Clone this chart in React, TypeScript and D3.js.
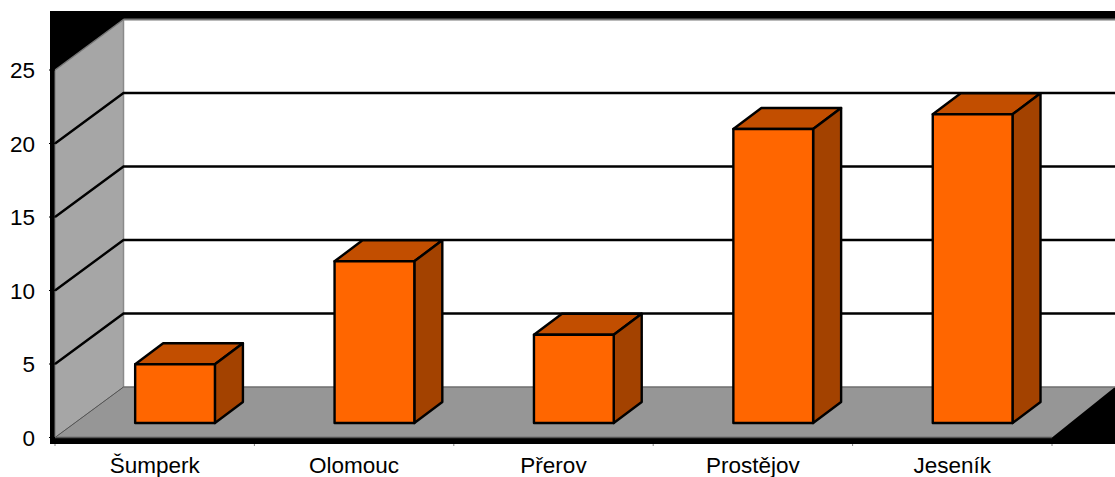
import React from "react";
import * as d3 from "d3";

const categories = ["Šumperk", "Olomouc", "Přerov", "Prostějov", "Jeseník"];
const values = [4, 11, 6, 20, 21];
const yTicks = [0, 5, 10, 15, 20, 25];

const W = 1115, H = 477;
const FRONT_X0 = 55, FRONT_X1 = 1052, ZERO = 437.5, TOP = 70;
const DX = 68.5, DY = 50.5;
const BAR_DX = 28, BAR_DY = 21, BAR_LIFT = 14.5;

const y = d3.scaleLinear().domain([0, 25]).range([ZERO, TOP]);
const x = d3.scaleBand<string>().domain(categories).range([FRONT_X0, FRONT_X1]).padding(0);
const poly = (pts: number[][]) => pts.map((p) => p.join(",")).join(" ");

export default function App() {
  const band = x.bandwidth();
  const barW = band * 0.4;
  const base = ZERO - BAR_LIFT;
  return (
    <svg width={W} height={H} style={{ position: "absolute", left: 0, top: 0, display: "block" }} fontFamily="'Liberation Sans', Arial, sans-serif">
      <rect x={0} y={0} width={W} height={H} fill="#fff" />
      <rect x={50} y={11} width={W - 50} height={433} fill="#000" />
      <rect x={FRONT_X0 + DX} y={TOP - DY} width={W - FRONT_X0 - DX} height={ZERO - TOP} fill="#fff" />
      <polygon points={poly([[FRONT_X0, y(25)], [FRONT_X0 + DX, y(25) - DY], [FRONT_X0 + DX, ZERO - DY], [FRONT_X0, ZERO]])} fill="#a6a6a6" />
      <polygon points={poly([[FRONT_X0, ZERO], [FRONT_X0 + DX, ZERO - DY], [W, ZERO - DY], [FRONT_X1, ZERO]])} fill="#969696" />
      <line x1={FRONT_X0 + DX} x2={W} y1={y(25) - DY} y2={y(25) - DY} stroke="#777" strokeWidth={2} />
      <line x1={FRONT_X0 + DX} x2={FRONT_X0 + DX} y1={y(25) - DY} y2={ZERO - DY} stroke="#8a8a8a" strokeWidth={1.5} />
      <line x1={FRONT_X0} x2={FRONT_X0 + DX} y1={ZERO} y2={ZERO - DY} stroke="#555" strokeWidth={1} />
      <line x1={FRONT_X0 + DX} x2={W} y1={ZERO - DY} y2={ZERO - DY} stroke="#6e6e6e" strokeWidth={1.5} />
      <line x1={FRONT_X0} x2={FRONT_X1} y1={ZERO} y2={ZERO} stroke="#555" strokeWidth={1.5} />
      <line x1={FRONT_X0} x2={FRONT_X0 + DX} y1={y(25)} y2={y(25) - DY} stroke="#777" strokeWidth={1.5} />
      <line x1={FRONT_X0} x2={FRONT_X0} y1={y(25)} y2={ZERO} stroke="#777" strokeWidth={1} />
      {yTicks.filter((t) => t > 0 && t < 25).map((t) => (
        <polyline key={t} fill="none" stroke="#000" strokeWidth={2.4}
          points={poly([[FRONT_X0, y(t)], [FRONT_X0 + DX, y(t) - DY], [W, y(t) - DY]])} />
      ))}
      {categories.map((c, i) => {
        const bx = x(c)! + band * 0.4 + 0.4;
        const t = y(values[i]) - BAR_LIFT;
        return (
          <g key={c} stroke="#000" strokeWidth={2.4} strokeLinejoin="round">
            <polygon points={poly([[bx, t], [bx + BAR_DX, t - BAR_DY], [bx + barW + BAR_DX, t - BAR_DY], [bx + barW, t]])} fill="#c24e00" />
            <polygon points={poly([[bx + barW, t], [bx + barW + BAR_DX, t - BAR_DY], [bx + barW + BAR_DX, base - BAR_DY], [bx + barW, base]])} fill="#a34200" />
            <rect x={bx} y={t} width={barW} height={base - t} fill="#ff6600" />
          </g>
        );
      })}
      {yTicks.map((t) => (
        <g key={t}>
          <line x1={49} x2={55} y1={y(t)} y2={y(t)} stroke="#000" strokeWidth={1} />
          <text x={35} y={y(t) + 8} fontSize={22.5} textAnchor="end" fill="#000">{t}</text>
        </g>
      ))}
      {[...categories.map((c) => x(c)!), FRONT_X1].map((p) => (
        <line key={p} x1={p} x2={p} y1={444} y2={446} stroke="#888" strokeWidth={1} />
      ))}
      {categories.map((c) => (
        <text key={c} x={x(c)! + band / 2} y={472.5} fontSize={22.5} textAnchor="middle" fill="#000">{c}</text>
      ))}
    </svg>
  );
}
